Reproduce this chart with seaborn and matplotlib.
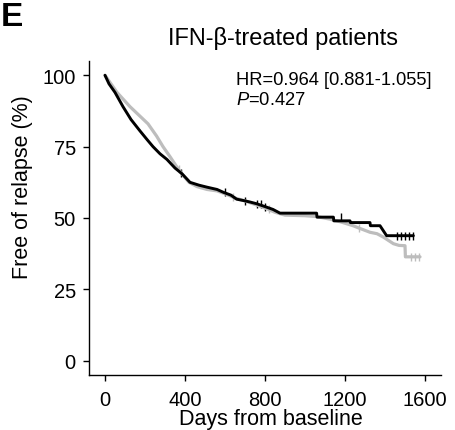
import numpy as np
import pandas as pd
import matplotlib
matplotlib.use("Agg")
import matplotlib.pyplot as plt
import seaborn as sns

# Kaplan-Meier curves (days, % free of relapse)
black_days = [0, 20, 50, 90, 130, 175, 210, 240, 275, 310, 350, 385, 425, 470, 510,
              560, 592, 630, 658, 700, 725, 758, 800, 840, 875, 1058, 1060, 1142,
              1144, 1225, 1227, 1325, 1327, 1375, 1408, 1542]
black_surv = [100, 97, 94, 89, 84.5, 80.5, 77.5, 75, 72.5, 70.5, 67.5, 65.5, 62.5, 61.5, 60.8,
              60, 59, 58, 56.6, 56, 55.6, 55, 54, 53, 51.7, 51.7, 50.3, 50.3,
              49.0, 49.0, 48.4, 48.4, 47.3, 47.3, 43.8, 43.8]

grey_days = [0, 25, 60, 125, 170, 215, 258, 290, 325, 358, 390, 420, 460, 510, 560,
             600, 650, 700, 760, 800, 850, 900, 1000, 1058, 1125, 1180, 1240, 1280,
             1325, 1360, 1392, 1442, 1470, 1500, 1502, 1575]
grey_surv = [100, 97.5, 94, 89, 86, 83, 78.7, 75, 71.5, 68, 65, 62.5, 61, 60, 59.5,
             58.5, 57, 56, 54.5, 53.5, 52, 51, 50.8, 50.5, 49.6, 48.6, 47.3, 46.2,
             45, 44.5, 43.3, 41, 40.4, 40.3, 36.4, 36.4]

# censoring ticks
black_cens_days = [380, 600, 700, 760, 780, 800, 1180, 1460, 1480, 1500, 1520, 1540]
black_cens_surv = [65.6, 59, 56, 55, 55, 54, 50.3, 43.8, 43.8, 43.8, 43.8, 43.8]
grey_cens_days = [370, 640, 820, 1270, 1530, 1550, 1570]
grey_cens_surv = [67, 57.3, 53, 46.5, 36.4, 36.4, 36.4]

x_ticks = [0, 400, 800, 1200, 1600]
y_ticks = [0, 25, 50, 75, 100]

sns.set_style("ticks")
plt.rcParams["font.family"] = ["Liberation Sans", "DejaVu Sans"]
plt.rcParams["mathtext.fontset"] = "custom"
plt.rcParams["mathtext.it"] = "Liberation Sans:italic"
plt.rcParams["mathtext.rm"] = "Liberation Sans"
plt.rcParams["text.color"] = "black"
plt.rcParams["axes.labelcolor"] = "black"

fig = plt.figure(figsize=(4.55, 4.31), dpi=100)
ax = fig.add_axes([89 / 455, 1 - 376 / 431, 352 / 455, 314 / 431])

df_grey = pd.DataFrame({"days": grey_days, "surv": grey_surv})
df_black = pd.DataFrame({"days": black_days, "surv": black_surv})
sns.lineplot(data=df_grey, x="days", y="surv", color="#bdbdbd", linewidth=2.3,
             estimator=None, sort=False, ax=ax)
sns.lineplot(data=df_black, x="days", y="surv", color="black", linewidth=2.1,
             estimator=None, sort=False, ax=ax)
sns.scatterplot(x=grey_cens_days, y=grey_cens_surv, marker="|", color="#bdbdbd",
                s=30, linewidth=1, ax=ax)
sns.scatterplot(x=black_cens_days, y=black_cens_surv, marker="|", color="black",
                s=30, linewidth=1, ax=ax)

ax.set_xlim(-80, 1680)
ax.set_ylim(-5, 105)
ax.set_xticks(x_ticks)
ax.set_yticks(y_ticks)
ax.tick_params(labelsize=14.5, length=4, width=1, colors="black")
ax.tick_params(axis="x", pad=6.5)
ax.tick_params(axis="y", pad=5.5)
for s in ["top", "right"]:
    ax.spines[s].set_visible(False)
for s in ["left", "bottom"]:
    ax.spines[s].set_color("black")
    ax.spines[s].set_linewidth(1)

ax.set_xlabel("Days from baseline", fontsize=15.5, va="baseline")
ax.xaxis.set_label_coords((271 - 89) / 352, (376 - 425) / 314)
ax.set_ylabel("Free of relapse (%)", fontsize=15.5, va="center")
ax.yaxis.set_label_coords((23 - 89) / 352, (376 - 187) / 314)

fig.text(283 / 455, 1 - 45 / 431, "IFN-β-treated patients", fontsize=17,
         ha="center", va="baseline")
fig.text(236 / 455, 1 - 85 / 431, "HR=0.964 [0.881-1.055]", fontsize=13.2,
         ha="left", va="baseline")
fig.text(236 / 455, 1 - 105 / 431, "$P$=0.427", fontsize=13.2,
         ha="left", va="baseline")
fig.text(1 / 455, 1 - 26 / 431, "E", fontsize=24, fontweight="bold",
         ha="left", va="baseline")

fig.savefig("out.png", dpi=100)
